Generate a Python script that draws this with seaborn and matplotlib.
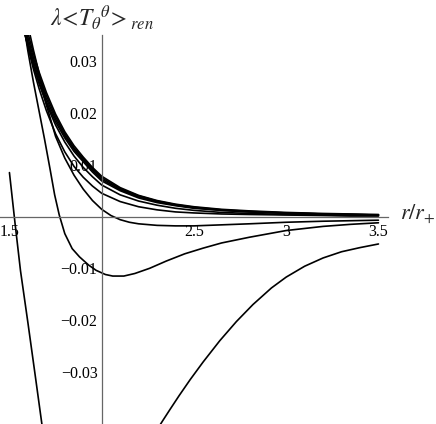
import pandas as pd
import matplotlib
matplotlib.use('Agg')
import matplotlib.pyplot as plt
import seaborn as sns
from matplotlib.ticker import MultipleLocator

# r/r+ grid shared by the upper bundle of curves
r_grid = [1.55, 1.58, 1.6, 1.63, 1.66, 1.7, 1.75, 1.8, 1.85, 1.9, 1.95, 2.0,
          2.1, 2.2, 2.3, 2.4, 2.5, 2.65, 2.8, 3.0, 3.2, 3.35, 3.5]

curve_b1 = [0.0435, 0.0385, 0.0355, 0.0315, 0.0280, 0.0240, 0.0198, 0.0164, 0.0137, 0.0115, 0.0095, 0.0078,
            0.0056, 0.0041, 0.0031, 0.0024, 0.0019, 0.0014, 0.0011, 0.0008, 0.0006, 0.0005, 0.0004]
curve_b2 = [0.0425, 0.0375, 0.0346, 0.0307, 0.0273, 0.0234, 0.0193, 0.0160, 0.0133, 0.0112, 0.0092, 0.0075,
            0.0054, 0.0040, 0.0030, 0.0023, 0.0018, 0.0013, 0.0010, 0.0007, 0.0005, 0.0004, 0.0003]
curve_b3 = [0.0415, 0.0366, 0.0338, 0.0300, 0.0267, 0.0228, 0.0188, 0.0156, 0.0130, 0.0109, 0.0089, 0.0072,
            0.0052, 0.0038, 0.0029, 0.0022, 0.0017, 0.0012, 0.0009, 0.0007, 0.0005, 0.0004, 0.0003]
curve_b4 = [0.0405, 0.0357, 0.0330, 0.0293, 0.0260, 0.0222, 0.0183, 0.0152, 0.0126, 0.0106, 0.0086, 0.0069,
            0.0050, 0.0036, 0.0027, 0.0021, 0.0016, 0.0012, 0.0009, 0.0006, 0.0004, 0.0003, 0.0003]
curve_a = [0.0410, 0.0360, 0.0330, 0.0292, 0.0258, 0.0218, 0.0177, 0.0144, 0.0117, 0.0095, 0.0077, 0.0061,
           0.0042, 0.0030, 0.0022, 0.0016, 0.0012, 0.0008, 0.0006, 0.0004, 0.0003, 0.0002, 0.0002]
curve_b = [0.0420, 0.0362, 0.0328, 0.0285, 0.0248, 0.0205, 0.0160, 0.0125, 0.0097, 0.0076, 0.0059, 0.0045,
           0.0029, 0.0019, 0.0013, 0.0009, 0.0007, 0.0005, 0.0004, 0.0003, 0.0002, 0.0001, 0.0001]

# curve that dips just below zero
r_d = [1.55, 1.58, 1.6, 1.63, 1.66, 1.7, 1.75, 1.8, 1.85, 1.9, 1.95, 2.0, 2.05,
       2.1, 2.15, 2.2, 2.3, 2.4, 2.5, 2.65, 2.8, 3.0, 3.2, 3.35, 3.5]
curve_d = [0.0460, 0.0405, 0.0370, 0.0322, 0.0278, 0.0216, 0.0155, 0.0113, 0.0080, 0.0053, 0.0031, 0.0014, 0.0002,
           -0.0006, -0.0011, -0.0014, -0.0017, -0.0018, -0.0018, -0.0016, -0.0014, -0.0011, -0.0009, -0.0008, -0.0007]

# curve with a minimum near r/r+ = 2.1
r_e = [1.55, 1.58, 1.6, 1.63, 1.66, 1.69, 1.72, 1.745, 1.77, 1.8, 1.84, 1.88, 1.93, 1.97,
       2.02, 2.06, 2.12, 2.18, 2.26, 2.35, 2.45, 2.55, 2.65, 2.8, 3.0, 3.2, 3.35, 3.5]
curve_e = [0.0430, 0.0365, 0.0320, 0.0260, 0.0205, 0.0150, 0.0092, 0.0042, 0.0003, -0.0033, -0.0062, -0.0078,
           -0.0094, -0.0104, -0.0112, -0.0115, -0.0115, -0.0110, -0.0100, -0.0086, -0.0072, -0.0061, -0.0051,
           -0.0040, -0.0027, -0.0019, -0.0015, -0.0012]

# lowest curve, seen as two branches (its minimum is far below the frame)
r_f_left = [1.5, 1.53, 1.56, 1.6, 1.64, 1.68]
curve_f_left = [0.0085, -0.0012, -0.0105, -0.0205, -0.0308, -0.0412]
r_f_right = [2.3, 2.33, 2.37, 2.42, 2.48, 2.55, 2.64, 2.73, 2.82, 2.92, 3.0, 3.1, 3.2, 3.3, 3.4, 3.5]
curve_f_right = [-0.0412, -0.0395, -0.0373, -0.0346, -0.0315, -0.0281, -0.0240, -0.0203, -0.0170,
                 -0.0138, -0.0117, -0.0096, -0.0080, -0.0068, -0.0060, -0.0053]

x_ticks = [1.5, 2.5, 3, 3.5]
x_tick_labels = ['1.5', '2.5', '3', '3.5']
y_ticks = [-0.03, -0.02, -0.01, 0.01, 0.02, 0.03]
y_tick_labels = ['\u22120.03', '\u22120.02', '\u22120.01', '0.01', '0.02', '0.03']

frames = []
for name, vals in [('b1', curve_b1), ('b2', curve_b2), ('b3', curve_b3), ('b4', curve_b4),
                   ('a', curve_a), ('b', curve_b)]:
    frames.append(pd.DataFrame({'r': r_grid, 'T': vals, 'curve': name}))
frames.append(pd.DataFrame({'r': r_d, 'T': curve_d, 'curve': 'd'}))
frames.append(pd.DataFrame({'r': r_e, 'T': curve_e, 'curve': 'e'}))
frames.append(pd.DataFrame({'r': r_f_left, 'T': curve_f_left, 'curve': 'f1'}))
frames.append(pd.DataFrame({'r': r_f_right, 'T': curve_f_right, 'curve': 'f2'}))
df = pd.concat(frames, ignore_index=True)

sns.set_style('white')
plt.rcParams['font.family'] = ['Liberation Serif', 'DejaVu Serif']
plt.rcParams['mathtext.fontset'] = 'stix'

W, H = 436, 424
fig = plt.figure(figsize=(W / 100, H / 100), dpi=100)
ax = fig.add_axes([0, 0, 388 / W, (H - 35) / H])

sns.lineplot(data=df, x='r', y='T', units='curve', estimator=None, sort=False,
             color='black', linewidth=1.2, ax=ax, legend=False)

ax.set_xlim(1.4488, 3.5518)
ax.set_ylim(-0.0401, 0.0351)

axis_col = '#666666'
for side in ['top', 'right']:
    ax.spines[side].set_visible(False)
ax.spines['left'].set_position(('data', 2))
ax.spines['bottom'].set_position(('data', 0))
for side in ['left', 'bottom']:
    ax.spines[side].set_color(axis_col)
    ax.spines[side].set_linewidth(0.9)

ax.set_xticks(x_ticks)
ax.set_xticklabels(x_tick_labels)
ax.set_yticks(y_ticks)
ax.set_yticklabels(y_tick_labels)
ax.xaxis.set_minor_locator(MultipleLocator(0.1))
ax.yaxis.set_minor_locator(MultipleLocator(0.002))
ax.tick_params(axis='both', which='major', direction='in', length=4, width=0.8,
               color=axis_col, labelsize=11.5, labelcolor='black')
ax.tick_params(axis='both', which='minor', direction='in', length=2.2, width=0.6, color=axis_col)
ax.tick_params(axis='x', which='major', pad=5)
ax.tick_params(axis='y', which='major', pad=3)
ax.set_xlabel('')
ax.set_ylabel('')
ax.set_axisbelow(True)
ax.patch.set_alpha(0)

fig.text(102 / W, 1 - 18 / H, r'$\lambda\!<\!T_{\theta}{}^{\theta}\!>_{ren}$',
         ha='center', va='center', fontsize=17)
fig.text(418 / W, 1 - 214 / H, r'$r/r_{+}$', ha='center', va='center', fontsize=16)

plt.savefig('out.png', dpi=100)
plt.close()
